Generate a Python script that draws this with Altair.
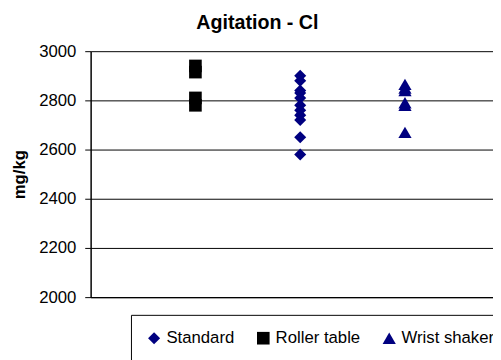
import altair as alt
import pandas as pd

series_names = ["Standard", "Roller table", "Wrist shaker"]
series_x = [2, 1, 3]
series_colors = ["#000080", "#000000", "#000080"]
series_shapes = ["diamond", "square", "triangle-up"]
series_sizes = [150, 180, 200]

standard_vals = [2900, 2880, 2840, 2830, 2810, 2780, 2760, 2740, 2720, 2650, 2580]
roller_vals = [2940, 2915, 2810, 2780]
wrist_vals = [2865, 2850, 2840, 2790, 2780, 2670]

y_ticks = [2000, 2200, 2400, 2600, 2800, 3000]

rows = []
for name, xv, vals in zip(series_names, series_x, [standard_vals, roller_vals, wrist_vals]):
    for v in vals:
        rows.append({"series": name, "x": xv, "y": v})
df = pd.DataFrame(rows)

FONT = "Liberation Sans"

legend_kw = dict(
    orient="none", legendX=41, legendY=268, direction="horizontal", title=None,
    strokeColor="black", fillColor="white", padding=15,
    labelFont=FONT, labelFontSize=17, labelColor="black",
    symbolSize=150, columnPadding=21, labelOffset=4, symbolStrokeWidth=0,
    labelLimit=300,
)

chart = alt.Chart(df).mark_point(filled=True, opacity=1).encode(
    x=alt.X("x:Q",
            scale=alt.Scale(domain=[0, 3.84], nice=False, zero=False),
            axis=alt.Axis(labels=False, ticks=False, grid=False, title=None,
                          domainColor="#000000", domainWidth=1.5)),
    y=alt.Y("y:Q",
            scale=alt.Scale(domain=[2000, 3000], nice=False, zero=False),
            axis=alt.Axis(values=y_ticks, format="d", title="mg/kg",
                          labelFont=FONT, labelFontSize=17, labelColor="black",
                          tickColor="black", tickSize=6, labelPadding=9,
                          domainColor="#000000", domainWidth=1.5,
                          gridColor="black", gridWidth=1, gridOpacity=1,
                          titleFont=FONT, titleFontSize=17, titleFontWeight="bold",
                          titleColor="black", titleX=-72, titleY=125, titleAngle=270,
                          titleAlign="center", titleBaseline="middle")),
    color=alt.Color("series:N",
                    scale=alt.Scale(domain=series_names, range=series_colors),
                    legend=alt.Legend(**legend_kw)),
    shape=alt.Shape("series:N",
                    scale=alt.Scale(domain=series_names, range=series_shapes),
                    legend=alt.Legend(**legend_kw)),
    size=alt.Size("series:N",
                  scale=alt.Scale(domain=series_names, range=series_sizes),
                  legend=None),
).properties(
    width=409,
    height=250,
    title=alt.Title("Agitation - Cl", font=FONT, fontSize=20, fontWeight="bold",
                    color="black", anchor="middle", dx=-35, offset=10),
    autosize=alt.AutoSizeParams(type="none"),
    padding={"left": 84, "top": 41, "right": 0, "bottom": 61},
    background="white",
).configure_view(stroke=None)

chart.save("out.html", embed_options={"renderer": "svg", "actions": False})
